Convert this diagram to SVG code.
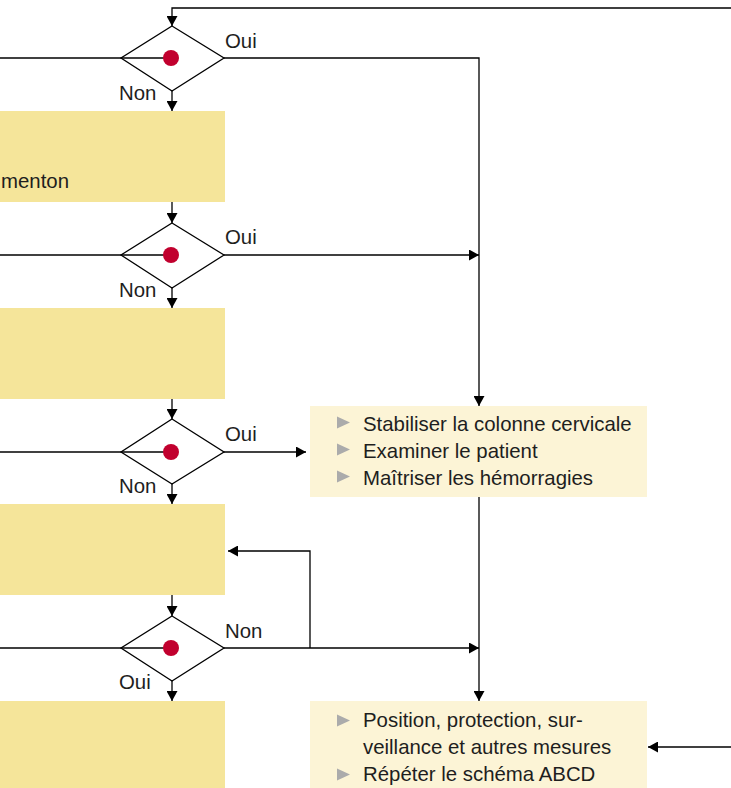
<svg xmlns="http://www.w3.org/2000/svg" width="731" height="788" viewBox="0 0 731 788">
<defs>
<marker id="ah" markerUnits="userSpaceOnUse" markerWidth="11" markerHeight="11" refX="10" refY="5.5" orient="auto">
<path d="M0,0 L10,5.5 L0,11 z" fill="#000"/>
</marker>
<style>
.dia{fill:#fff;stroke:#000;stroke-width:1.3}
.dot{fill:#c1002e}
.yb{fill:#f5e59a}
.lb{fill:#fcf4d6}
.ln{fill:none;stroke:#000;stroke-width:1.3}
.ar{fill:none;stroke:#000;stroke-width:1.3;marker-end:url(#ah)}
.t{font-family:"Liberation Sans",Arial,sans-serif;font-size:20.4px;fill:#1e1e1e}
.bul{fill:#ababab}
</style>
</defs>
<rect width="731" height="788" fill="#fff"/>
<g id="connectors">
<polyline class="ar" points="731,8 172,8 172,26"/>
<line class="ln" x1="0" y1="58" x2="165" y2="58"/>
<polyline class="ar" points="224,58 479,58 479,406"/>
<line class="ar" x1="172" y1="91" x2="172" y2="111"/>
<line class="ar" x1="172" y1="202" x2="172" y2="223"/>
<line class="ln" x1="0" y1="255" x2="165" y2="255"/>
<line class="ar" x1="224" y1="255" x2="479" y2="255"/>
<line class="ar" x1="172" y1="288" x2="172" y2="308"/>
<line class="ar" x1="172" y1="399" x2="172" y2="419"/>
<line class="ln" x1="0" y1="452" x2="165" y2="452"/>
<line class="ar" x1="224" y1="452" x2="306" y2="452"/>
<line class="ar" x1="172" y1="484" x2="172" y2="504"/>
<line class="ar" x1="172" y1="595" x2="172" y2="616"/>
<line class="ln" x1="0" y1="648" x2="165" y2="648"/>
<line class="ar" x1="224" y1="648" x2="479" y2="648"/>
<polyline class="ar" points="310,648 310,551 228,551"/>
<line class="ar" x1="172" y1="681" x2="172" y2="701"/>
<line class="ar" x1="479" y1="497" x2="479" y2="701"/>
<line class="ar" x1="731" y1="747" x2="648" y2="747"/>
<text class="t" x="225" y="48">Oui</text>
<text class="t" x="119" y="100">Non</text>
<text class="t" x="225" y="244">Oui</text>
<text class="t" x="119" y="297">Non</text>
<text class="t" x="225" y="441">Oui</text>
<text class="t" x="119" y="493">Non</text>
<text class="t" x="225" y="638">Non</text>
<text class="t" x="119" y="689">Oui</text>
</g>
<g id="decision1"><polygon class="dia" points="172,26 224,58 172,91 121,58"/><line class="ln" x1="121" y1="58" x2="165" y2="58"/><circle class="dot" cx="171" cy="58" r="8"/></g>
<g id="decision2"><polygon class="dia" points="172,223 224,255 172,288 121,255"/><line class="ln" x1="121" y1="255" x2="165" y2="255"/><circle class="dot" cx="171" cy="255" r="8"/></g>
<g id="decision3"><polygon class="dia" points="172,419 224,452 172,484 121,452"/><line class="ln" x1="121" y1="452" x2="165" y2="452"/><circle class="dot" cx="171" cy="452" r="8"/></g>
<g id="decision4"><polygon class="dia" points="172,616 224,648 172,681 121,648"/><line class="ln" x1="121" y1="648" x2="165" y2="648"/><circle class="dot" cx="171" cy="648" r="8"/></g>
<g id="box1"><rect class="yb" x="0" y="111" width="225" height="91"/><text class="t" x="1" y="188">menton</text></g>
<g id="box2"><rect class="yb" x="0" y="308" width="225" height="91"/></g>
<g id="box3"><rect class="yb" x="0" y="504" width="225" height="91"/></g>
<g id="box4"><rect class="yb" x="0" y="701" width="225" height="87"/></g>
<g id="boxA">
<rect class="lb" x="310" y="406" width="337" height="91"/>
<polygon class="bul" points="337,416.5 350,422.5 337,428.5"/>
<text class="t" x="363" y="431">Stabiliser la colonne cervicale</text>
<polygon class="bul" points="337,443.5 350,449.5 337,455.5"/>
<text class="t" x="363" y="458">Examiner le patient</text>
<polygon class="bul" points="337,470.5 350,476.5 337,482.5"/>
<text class="t" x="363" y="485">Maîtriser les hémorragies</text>
</g>
<g id="boxB">
<rect class="lb" x="310" y="701" width="337" height="87"/>
<polygon class="bul" points="337,714.5 350,720.5 337,726.5"/>
<text class="t" x="363" y="727">Position, protection, sur-</text>
<text class="t" x="363" y="754">veillance et autres mesures</text>
<polygon class="bul" points="337,768.5 350,774.5 337,780.5"/>
<text class="t" x="363" y="781">Répéter le schéma ABCD</text>
</g>
</svg>
